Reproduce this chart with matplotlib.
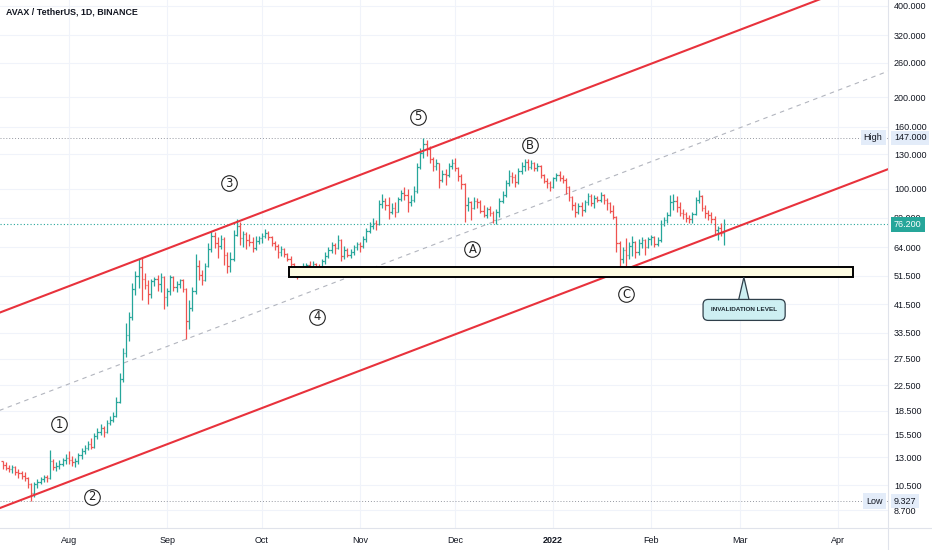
import datetime as dt
import numpy as np
import matplotlib
matplotlib.use("Agg")
import matplotlib.pyplot as plt
import matplotlib.dates as mdates
from matplotlib.patches import Rectangle, Polygon
from matplotlib.lines import Line2D

plt.rcParams['font.family'] = ['Liberation Sans', 'DejaVu Sans']

# ---- daily AVAX/USDT bars, 2021-07-11 .. 2022-02-24 ----
first_day = dt.date(2021, 7, 11)
first_open = 12.6

closes = [
    # Jul 11-31
    12.3, 12.0, 11.9, 12.1, 11.6, 11.5, 11.3, 11.1, 10.6, 9.9, 10.6, 10.8, 11.0, 11.2, 11.1, 12.6, 12.1, 12.2, 12.4, 12.7, 12.9,
    # Aug
    12.7, 12.5, 12.6, 13.2, 13.6, 13.9, 14.4, 14.1, 15.3, 15.7, 16.2, 15.7, 16.9, 17.3, 17.8, 19.8, 23.5, 28.6, 33.0, 37.8,
    46.5, 51.5, 55.0, 50.5, 48.2, 45.0, 49.5, 50.2, 48.5, 51.0, 44.0,
    # Sep
    46.0, 51.0, 47.5, 48.5, 49.8, 46.8, 36.5, 40.5, 46.0, 55.5, 52.0, 50.0, 55.5, 63.0, 70.0, 66.0, 64.5, 68.0, 60.5, 55.5,
    58.5, 70.5, 75.5, 68.5, 71.0, 67.5, 66.5, 63.5, 67.0, 68.5,
    # Oct
    70.0, 71.5, 69.0, 66.0, 64.5, 62.0, 63.0, 61.0, 58.5, 56.5, 54.5, 52.5, 54.0, 55.5, 56.0, 55.0, 56.5, 55.0, 54.5, 57.5,
    60.0, 62.5, 65.0, 63.5, 67.5, 60.0, 62.5, 60.5, 62.0, 64.0, 65.5,
    # Nov
    64.5, 68.0, 72.5, 75.5, 77.0, 76.5, 89.0, 91.0, 88.5, 83.5, 86.5, 84.0, 92.5, 96.5, 95.0, 90.0, 92.0, 98.5, 118.0, 131.0,
    140.0, 135.0, 125.0, 119.0, 121.5, 106.5, 112.0, 110.5, 118.5, 121.5,
    # Dec
    117.0, 110.0, 103.5, 88.5, 90.5, 86.5, 91.0, 90.0, 84.5, 82.0, 85.5, 83.0, 78.5, 84.0, 91.0, 95.5, 104.0, 110.0, 109.5, 105.0,
    114.0, 119.0, 122.5, 117.5, 121.0, 117.0, 119.0, 110.5, 106.0, 104.0, 101.5,
    # Jan
    108.0, 110.5, 108.5, 107.0, 101.0, 93.5, 88.0, 84.0, 87.5, 85.0, 90.0, 94.5, 89.5, 93.0, 92.0, 95.5, 91.5, 89.5, 84.5, 80.5,
    66.0, 58.5, 62.5, 60.5, 64.5, 66.5, 62.0, 66.0, 67.5, 64.0, 68.0,
    # Feb 1-24
    69.0, 65.5, 67.5, 76.5, 78.5, 82.0, 90.5, 91.0, 87.0, 83.0, 82.5, 80.0, 79.5, 82.5, 91.5, 94.5, 86.5, 83.0, 82.0, 79.5,
    73.0, 74.0, 71.5, 76.2,
]
highs = [
    12.6, 12.5, 12.3, 12.3, 12.2, 11.9, 11.7, 11.6, 11.2, 10.7, 10.8, 11.0, 11.2, 11.4, 11.4, 13.7, 12.8, 12.5, 12.7, 12.9, 13.3,
    13.6, 13.1, 12.9, 13.4, 14.0, 14.3, 14.7, 15.0, 15.6, 16.3, 16.8, 16.5, 17.3, 17.8, 18.4, 20.6, 24.6, 29.8, 36.0, 39.2,
    49.0, 53.5, 58.5, 58.9, 52.5, 50.0, 50.5, 51.2, 52.0, 52.5, 51.5,
    47.0, 52.0, 51.5, 49.5, 50.5, 50.5, 47.0, 43.0, 47.5, 61.0, 58.0, 54.0, 57.0, 66.0, 72.5, 72.0, 69.0, 70.5, 69.0, 62.0,
    62.0, 73.0, 79.5, 77.5, 72.5, 72.0, 71.0, 69.0, 69.5, 70.0,
    71.5, 73.5, 72.5, 69.5, 67.0, 65.5, 64.5, 63.5, 61.5, 60.0, 57.0, 55.0, 55.5, 57.0, 57.0, 57.5, 57.5, 57.0, 56.5, 58.5,
    62.0, 64.0, 66.5, 66.0, 70.5, 68.0, 64.5, 63.5, 63.0, 65.0, 66.5,
    66.5, 69.5, 74.0, 77.5, 80.0, 78.5, 91.5, 96.0, 93.0, 93.5, 89.5, 90.5, 94.0, 99.0, 101.0, 99.5, 95.5, 102.0, 121.0, 136.5,
    147.0, 145.0, 138.0, 127.5, 125.0, 121.0, 115.0, 116.0, 121.5, 125.5,
    126.0, 118.0, 112.0, 104.0, 93.5, 91.0, 93.5, 93.0, 91.5, 88.0, 87.0, 87.5, 84.5, 85.5, 93.0, 98.0, 106.5, 115.0, 113.0, 112.0,
    116.5, 122.0, 125.5, 125.0, 124.0, 122.5, 121.5, 119.5, 112.0, 108.0, 106.0,
    109.5, 112.5, 114.0, 111.0, 108.5, 102.0, 94.5, 90.0, 89.5, 90.0, 92.0, 96.5, 96.0, 95.0, 94.5, 97.5, 96.0, 93.0, 90.5, 88.5,
    81.5, 67.0, 64.0, 68.5, 66.5, 69.5, 67.0, 68.0, 69.0, 68.0, 69.0,
    70.5, 69.5, 69.0, 78.5, 80.5, 83.5, 95.0, 96.0, 94.5, 90.0, 85.5, 84.0, 82.0, 83.5, 94.0, 99.0, 95.5, 88.0, 85.0, 84.0,
    81.0, 75.5, 77.0, 79.5,
]
lows = [
    11.9, 11.8, 11.6, 11.5, 11.4, 11.1, 11.0, 10.9, 10.3, 9.327, 9.6, 10.3, 10.6, 10.8, 10.8, 11.0, 11.8, 11.7, 11.9, 12.2, 12.4,
    12.4, 12.2, 12.1, 12.4, 12.8, 13.3, 13.7, 13.8, 13.9, 14.9, 15.4, 15.2, 15.6, 16.6, 17.0, 17.6, 19.6, 23.0, 27.8, 31.5,
    37.0, 44.5, 47.0, 43.0, 46.5, 41.5, 43.5, 47.8, 46.0, 45.5, 40.0,
    41.0, 44.5, 46.0, 45.5, 47.0, 45.5, 32.0, 34.5, 39.5, 45.0, 50.0, 48.0, 49.5, 55.0, 62.0, 63.5, 59.0, 63.0, 56.0, 52.5,
    53.0, 57.5, 69.5, 65.0, 64.0, 63.0, 64.5, 62.0, 62.5, 65.5,
    66.0, 68.5, 67.5, 64.5, 62.5, 59.0, 60.0, 59.5, 57.5, 55.0, 53.0, 50.5, 51.5, 53.5, 54.0, 54.5, 53.0, 52.5, 53.5, 54.0,
    56.5, 59.0, 61.5, 61.0, 63.0, 57.5, 58.5, 59.5, 59.0, 60.5, 62.5,
    62.0, 63.5, 66.5, 71.5, 73.5, 73.0, 76.0, 86.5, 85.0, 79.5, 82.5, 80.5, 83.5, 91.0, 92.0, 84.0, 87.5, 90.5, 97.0, 116.0,
    126.0, 128.0, 121.5, 114.0, 115.0, 100.5, 105.0, 103.0, 109.0, 116.0,
    114.5, 106.0, 99.5, 77.5, 84.5, 78.5, 85.5, 86.0, 83.0, 80.5, 80.0, 81.0, 77.0, 76.5, 80.5, 89.5, 93.5, 102.0, 104.5, 101.5,
    103.5, 111.5, 114.5, 115.5, 116.0, 114.0, 114.5, 108.0, 104.0, 100.5, 98.5,
    100.5, 106.0, 106.0, 104.0, 96.0, 91.0, 85.0, 80.5, 82.5, 81.0, 83.5, 88.5, 87.5, 86.5, 90.0, 90.5, 89.0, 85.0, 83.0, 79.5,
    62.0, 55.0, 57.0, 53.6, 58.5, 60.0, 59.0, 60.5, 63.5, 60.5, 63.5,
    65.0, 64.0, 64.5, 66.5, 75.0, 77.0, 81.5, 85.0, 84.0, 81.0, 79.5, 77.5, 77.0, 77.0, 82.0, 89.5, 84.5, 80.0, 79.0, 77.0,
    71.0, 67.5, 69.5, 65.0,
]

# price scale labels on the right
price_ticks = [400, 320, 260, 200, 160, 130, 100, 80, 64, 51.5, 41.5, 33.5, 27.5, 22.5, 18.5, 15.5, 13, 10.5, 8.7]
month_ticks = ["2021-08-01", "2021-09-01", "2021-10-01", "2021-11-01", "2021-12-01",
               "2022-01-01", "2022-02-01", "2022-03-01", "2022-04-01"]
month_labels = ["Aug", "Sep", "Oct", "Nov", "Dec", "2022", "Feb", "Mar", "Apr"]

all_time_high = 147.0
all_time_low = 9.327
last_price = 76.2

# drawings
channel_dates = ["2021-07-10", "2022-04-20"]
upper_prices = [38.96, 528.2]
lower_prices = [8.83, 119.3]
mid_prices = [18.55, 251.0]

zone_dates = ["2021-10-09 12:00", "2022-04-05 14:00"]
zone_prices = [51.0, 55.3]

callout_date = "2022-03-02 08:00"
callout_price = 39.8
pointer_dates = ["2022-02-28 12:00", "2022-03-02 06:00", "2022-03-04 00:00"]
pointer_prices = [42.5, 51.0, 42.5]

wave_text = ["1", "2", "3", "4", "5", "A", "B", "C"]
wave_dates = ["2021-07-28 20:00", "2021-08-08 04:00", "2021-09-20 12:00", "2021-10-18 08:00",
              "2021-11-19 08:00", "2021-12-06 12:00", "2021-12-24 16:00", "2022-01-24 00:00"]
wave_prices = [16.7, 9.63, 104.3, 37.8, 172.2, 63.2, 138.7, 44.9]

# ---- colours ----
UP = "#26a69a"
DOWN = "#ef5350"
RED = "#e8323c"
GRID = "#f0f3fa"
TXT = "#131722"
BORDER = "#e0e3eb"

closes = np.array(closes)
highs = np.array(highs)
lows = np.array(lows)
opens = np.concatenate([[first_open], closes[:-1]])
highs = np.maximum(highs, np.maximum(opens, closes))
lows = np.minimum(lows, np.minimum(opens, closes))

days = [first_day + dt.timedelta(days=i) for i in range(len(closes))]
x = mdates.date2num(days)
colors = np.where(closes >= opens, UP, DOWN)

fig = plt.figure(figsize=(9.32, 5.5), dpi=100)
ax = fig.add_axes([0, 22 / 550, 888 / 932, 528 / 550])
ax.set_yscale("log")

aug1 = mdates.datestr2num("2021-08-01")
ax.set_xlim(aug1 - 21.8, aug1 + 258.8)
ax.set_ylim(7.60, 418.6)

# grid
for p in price_ticks:
    ax.axhline(p, color=GRID, lw=0.8, zorder=0)
for m in month_ticks:
    ax.axvline(mdates.datestr2num(m), color=GRID, lw=0.8, zorder=0)

# OHLC bars
tick = 0.45
ax.vlines(x, lows, highs, colors=colors, lw=0.9, zorder=3)
ax.hlines(opens, x - tick, x, colors=colors, lw=0.9, zorder=3)
ax.hlines(closes, x, x + tick, colors=colors, lw=0.9, zorder=3)

# price lines
ax.axhline(all_time_high, color="#9598a1", lw=0.7, ls=(0, (1, 2)), zorder=2)
ax.axhline(all_time_low, color="#9598a1", lw=0.7, ls=(0, (1, 2)), zorder=2)
ax.axhline(last_price, color=UP, lw=0.8, ls=(0, (1, 2)), zorder=2)

# channel
cx = [mdates.datestr2num(d) for d in channel_dates]
ax.plot(cx, upper_prices, color=RED, lw=1.5, zorder=4, solid_capstyle="butt")
ax.plot(cx, lower_prices, color=RED, lw=1.5, zorder=4, solid_capstyle="butt")
ax.plot(cx, mid_prices, color="#b2b5be", lw=0.8, ls=(0, (4, 4)), zorder=2)

# invalidation zone
zx = [mdates.datestr2num(d) for d in zone_dates]
ax.add_patch(Rectangle((zx[0], zone_prices[0]), zx[1] - zx[0], zone_prices[1] - zone_prices[0],
                       facecolor="#fdfbe2", edgecolor="black", lw=1.4, zorder=5))

px = [mdates.datestr2num(d) for d in pointer_dates]
ax.add_patch(Polygon(list(zip(px, pointer_prices)), closed=True, facecolor="#cdeff2",
                     edgecolor="#2f3f4a", lw=0.9, zorder=6))
ax.text(mdates.datestr2num(callout_date), callout_price, "INVALIDATION LEVEL",
        ha="center", va="center", fontsize=4.6, fontweight="bold", color="#1e2b33", zorder=7,
        bbox=dict(boxstyle="round,pad=1.25,rounding_size=0.8", fc="#cdeff2", ec="#2f3f4a", lw=0.9))

# wave labels
for t, d, p in zip(wave_text, wave_dates, wave_prices):
    wx = mdates.datestr2num(d)
    ax.plot(wx, p, marker="o", ms=11.2, mfc="white", mec="#222222", mew=0.8, zorder=8)
    ax.text(wx, p, t, ha="center", va="center", fontsize=8.3, color="#222222", zorder=9,
            family=["DejaVu Sans"])

# axes cosmetics
for s in ax.spines.values():
    s.set_visible(False)
ax.yaxis.tick_right()
ax.set_yticks(price_ticks)
ax.set_yticklabels(["%.3f" % p for p in price_ticks])
ax.yaxis.set_minor_locator(matplotlib.ticker.NullLocator())
ax.tick_params(axis="y", length=0, pad=4.3, labelsize=6.5, labelcolor=TXT)
ax.set_xticks([mdates.datestr2num(m) for m in month_ticks])
ax.set_xticklabels(month_labels)
ax.tick_params(axis="x", length=0, pad=5.5, labelsize=6.5, labelcolor=TXT)
for lbl in ax.get_xticklabels():
    if lbl.get_text() == "2022":
        lbl.set_fontweight("bold")

# special price-scale labels
ytr = ax.get_yaxis_transform()
ax.annotate("%.3f" % all_time_high, xy=(1, all_time_high), xycoords=ytr, xytext=(4.3, 0),
            textcoords="offset points", ha="left", va="center", fontsize=6.5, color=TXT,
            bbox=dict(boxstyle="square,pad=0.3", fc="#e3ecf9", ec="none"), annotation_clip=False, zorder=10)
ax.annotate("High", xy=(1, all_time_high), xycoords=ytr, xytext=(-4, 0),
            textcoords="offset points", ha="right", va="center", fontsize=6.5, color=TXT,
            bbox=dict(boxstyle="square,pad=0.35", fc="#e3ecf9", ec="none"), annotation_clip=False, zorder=10)
ax.annotate("%.3f" % all_time_low, xy=(1, all_time_low), xycoords=ytr, xytext=(4.3, 0),
            textcoords="offset points", ha="left", va="center", fontsize=6.5, color=TXT,
            bbox=dict(boxstyle="square,pad=0.3", fc="#e3ecf9", ec="none"), annotation_clip=False, zorder=10)
ax.annotate("Low", xy=(1, all_time_low), xycoords=ytr, xytext=(-4, 0),
            textcoords="offset points", ha="right", va="center", fontsize=6.5, color=TXT,
            bbox=dict(boxstyle="square,pad=0.35", fc="#e3ecf9", ec="none"), annotation_clip=False, zorder=10)
ax.annotate("%.3f" % last_price, xy=(1, last_price), xycoords=ytr, xytext=(4.3, 0),
            textcoords="offset points", ha="left", va="center", fontsize=6.5, color="white",
            bbox=dict(boxstyle="square,pad=0.35", fc=UP, ec="none"), annotation_clip=False, zorder=10)

# pane borders
fig.add_artist(Line2D([888 / 932, 888 / 932], [0, 1], color=BORDER, lw=0.8))
fig.add_artist(Line2D([0, 1], [22 / 550, 22 / 550], color=BORDER, lw=0.8))

fig.text(6 / 932, 1 - 12 / 550, "AVAX / TetherUS, 1D, BINANCE", ha="left", va="center",
         fontsize=6.4, fontweight="bold", color=TXT)

fig.savefig("out.png", dpi=100)
